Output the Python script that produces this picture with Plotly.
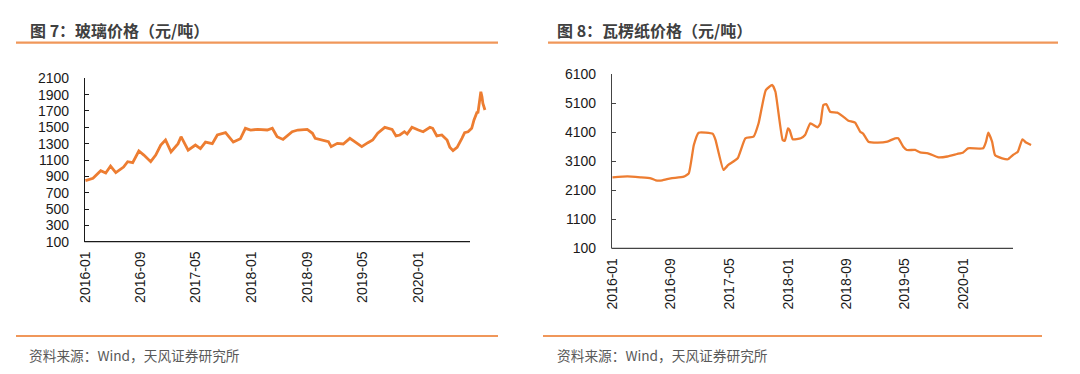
import plotly.graph_objects as go

W, H = 1080, 374

# ---------------- data ----------------
x_tick_labels = ["2016-01", "2016-09", "2017-05", "2018-01", "2018-09", "2019-05", "2020-01"]

glass_dates = [
    "2016-01-03", "2016-02-05", "2016-03-10", "2016-04-01", "2016-04-22", "2016-05-15",
    "2016-06-18", "2016-07-06", "2016-07-28", "2016-08-24", "2016-09-15", "2016-10-15",
    "2016-11-06", "2016-11-28", "2016-12-19", "2017-01-12", "2017-02-12", "2017-02-25",
    "2017-03-28", "2017-04-29", "2017-05-21", "2017-06-12", "2017-07-12", "2017-08-03",
    "2017-09-08", "2017-10-12", "2017-11-12", "2017-12-04", "2017-12-27", "2018-01-27",
    "2018-03-10", "2018-04-01", "2018-04-22", "2018-05-18", "2018-06-27", "2018-07-22",
    "2018-09-01", "2018-09-24", "2018-10-06", "2018-11-06", "2018-12-03", "2018-12-15",
    "2019-01-11", "2019-02-06", "2019-03-07", "2019-03-28", "2019-04-28", "2019-05-25",
    "2019-06-15", "2019-07-07", "2019-08-07", "2019-09-08", "2019-09-25", "2019-10-12",
    "2019-11-01", "2019-11-13", "2019-12-04", "2020-01-01", "2020-01-22", "2020-02-21",
    "2020-03-04", "2020-03-22", "2020-04-13", "2020-05-06", "2020-05-18", "2020-06-01",
    "2020-06-19", "2020-07-10", "2020-07-22", "2020-08-06", "2020-08-22", "2020-09-01",
    "2020-09-15", "2020-09-18", "2020-10-01", "2020-10-06", "2020-10-10", "2020-10-19",
]
glass_prices = [
    847, 876, 969, 940, 1026, 945,
    1014, 1079, 1067, 1210, 1160, 1079,
    1160, 1283, 1345, 1200, 1300, 1385,
    1220, 1283, 1240, 1320, 1300, 1406,
    1434, 1320, 1360, 1488, 1467, 1475,
    1467, 1488, 1385, 1352, 1447, 1467,
    1475, 1427, 1365, 1345, 1324, 1263,
    1304, 1296, 1365, 1324, 1263, 1312,
    1345, 1427, 1500, 1475, 1394, 1406,
    1446, 1418, 1500, 1467, 1446, 1500,
    1488, 1394, 1406, 1345, 1255, 1214,
    1255, 1365, 1434, 1446, 1488, 1590,
    1691, 1670, 1936, 1875, 1793, 1712,
]

carton_dates = [
    "2016-01-03", "2016-03-05", "2016-04-29", "2016-06-10", "2016-07-01", "2016-07-28",
    "2016-09-01", "2016-10-25", "2016-11-15", "2016-12-06", "2016-12-26", "2017-02-23",
    "2017-03-06", "2017-04-08", "2017-04-28", "2017-06-06", "2017-07-08", "2017-08-11",
    "2017-09-01", "2017-10-01", "2017-10-28", "2017-11-10", "2017-12-10", "2017-12-19",
    "2018-01-01", "2018-01-08", "2018-01-21", "2018-02-23", "2018-03-13", "2018-04-04",
    "2018-05-04", "2018-05-16", "2018-05-28", "2018-06-10", "2018-06-25", "2018-07-25",
    "2018-08-19", "2018-09-09", "2018-10-07", "2018-10-28", "2018-11-10", "2018-12-01",
    "2019-01-07", "2019-02-18", "2019-03-22", "2019-04-04", "2019-04-25", "2019-05-10",
    "2019-06-13", "2019-07-04", "2019-08-06", "2019-09-18", "2019-10-25", "2019-12-04",
    "2019-12-30", "2020-01-19", "2020-03-22", "2020-04-03", "2020-04-12", "2020-04-28",
    "2020-05-10", "2020-06-09", "2020-07-03", "2020-07-24", "2020-08-13", "2020-09-01",
    "2020-09-16", "2020-10-07",
]
carton_prices = [
    2544, 2578, 2544, 2510, 2441, 2441,
    2510, 2565, 2680, 3655, 4080, 4040,
    3830, 2800, 2968, 3198, 3887, 3942,
    4403, 5549, 5721, 5490, 3828, 3800,
    4231, 4170, 3852, 3887, 4000, 4403,
    4265, 4403, 5033, 5060, 4802, 4770,
    4630, 4493, 4425, 4114, 4040, 3770,
    3735, 3770, 3887, 3887, 3597, 3484,
    3484, 3400, 3370, 3232, 3260, 3346,
    3400, 3542, 3542, 3770, 4080, 3770,
    3312, 3198, 3165, 3312, 3425, 3852,
    3740, 3656,
]

glass_yticks = [100, 300, 500, 700, 900, 1100, 1300, 1500, 1700, 1900, 2100]
carton_yticks = [100, 1100, 2100, 3100, 4100, 5100, 6100]

titles = ["图 7：玻璃价格（元/吨）", "图 8：瓦楞纸价格（元/吨）"]
source_text = "资料来源：Wind，天风证券研究所"

# ---------------- style ----------------
LINE_COLOR = "#ED7D31"
RULE_COLOR = "#F0975A"
TICK_FONT = dict(family="Liberation Sans, Arial, sans-serif", size=14, color="#1a1a1a")
CJK = "Noto Sans CJK SC, sans-serif"

def px_x(x):
    return x / W

def px_y(y):
    return 1 - y / H

fig = go.Figure()
fig.add_trace(go.Scatter(x=glass_dates, y=glass_prices, mode="lines",
                         line=dict(color=LINE_COLOR, width=2.8), xaxis="x", yaxis="y",
                         showlegend=False, hoverinfo="x+y"))
fig.add_trace(go.Scatter(x=carton_dates, y=carton_prices, mode="lines",
                         line=dict(color=LINE_COLOR, width=2.3, shape="spline", smoothing=0.4),
                         xaxis="x2", yaxis="y2", showlegend=False, hoverinfo="x+y"))

tick_dates = [t + "-01" for t in x_tick_labels]

def xaxis_cfg(domain, rng, anchor):
    return dict(domain=domain, range=rng, anchor=anchor, showgrid=False, zeroline=False,
                showline=False, ticks="", tickvals=tick_dates, ticktext=x_tick_labels,
                tickangle=-90, tickfont=TICK_FONT, ticklabelstandoff=6, fixedrange=True,
                automargin=False)

def yaxis_cfg(domain, rng, anchor, tickvals, color):
    return dict(domain=domain, range=rng, anchor=anchor, showgrid=False, zeroline=False,
                showline=True, linecolor=color, linewidth=1.3, ticks="inside", ticklen=4,
                tickcolor=color, tickwidth=1.3, tickvals=tickvals,
                ticktext=[str(v) for v in tickvals], tickfont=TICK_FONT,
                ticklabelstandoff=12, fixedrange=True, automargin=False)

fig.update_layout(
    template="none",
    width=W, height=H,
    margin=dict(l=0, r=0, t=0, b=0, pad=0, autoexpand=False),
    paper_bgcolor="white", plot_bgcolor="white",
    xaxis=xaxis_cfg([px_x(85), px_x(487)], ["2016-01-01", "2020-10-28"], "y"),
    yaxis=yaxis_cfg([px_y(241.7), px_y(78.3)], [100, 2100], "x", glass_yticks, "#1a1a1a"),
    xaxis2=xaxis_cfg([px_x(612), px_x(1033)], ["2016-01-01", "2020-10-15"], "y2"),
    yaxis2=yaxis_cfg([px_y(248.3), px_y(74)], [100, 6100], "x2", carton_yticks, "#444444"),
)

shapes = [
    # title rules
    dict(type="line", xref="paper", yref="paper", x0=px_x(16), x1=px_x(498),
         y0=px_y(42.7), y1=px_y(42.7), line=dict(color=RULE_COLOR, width=2.2)),
    dict(type="line", xref="paper", yref="paper", x0=px_x(548), x1=px_x(1058),
         y0=px_y(42.7), y1=px_y(42.7), line=dict(color=RULE_COLOR, width=2.2)),
    # source rules
    dict(type="line", xref="paper", yref="paper", x0=px_x(16), x1=px_x(498),
         y0=px_y(336), y1=px_y(336), line=dict(color=RULE_COLOR, width=2.2)),
    dict(type="line", xref="paper", yref="paper", x0=px_x(543), x1=px_x(1042),
         y0=px_y(336), y1=px_y(336), line=dict(color=RULE_COLOR, width=2.2)),
    # x axis baselines
    dict(type="line", xref="paper", yref="paper", x0=px_x(84.4), x1=px_x(470),
         y0=px_y(241.7), y1=px_y(241.7), line=dict(color="#1a1a1a", width=1.3)),
    dict(type="line", xref="paper", yref="paper", x0=px_x(611.4), x1=px_x(1013),
         y0=px_y(248.3), y1=px_y(248.3), line=dict(color="#444444", width=1.3)),
]
fig.update_layout(shapes=shapes)

annotations = []
for xpos, t in zip([28, 555], titles):
    annotations.append(dict(text="<b>" + t + "</b>", xref="paper", yref="paper",
                            x=px_x(xpos), y=px_y(30), xanchor="left", yanchor="middle",
                            showarrow=False,
                            font=dict(family=CJK, size=16, color="#404040")))
for xpos in [27, 555]:
    annotations.append(dict(text=source_text, xref="paper", yref="paper",
                            x=px_x(xpos), y=px_y(355), xanchor="left", yanchor="middle",
                            showarrow=False,
                            font=dict(family=CJK, size=13.7, color="#595959")))
fig.update_layout(annotations=annotations)

fig.write_html("out.html", config={"displayModeBar": False},
               post_script="document.body.style.margin='0';document.body.style.overflow='hidden';")
